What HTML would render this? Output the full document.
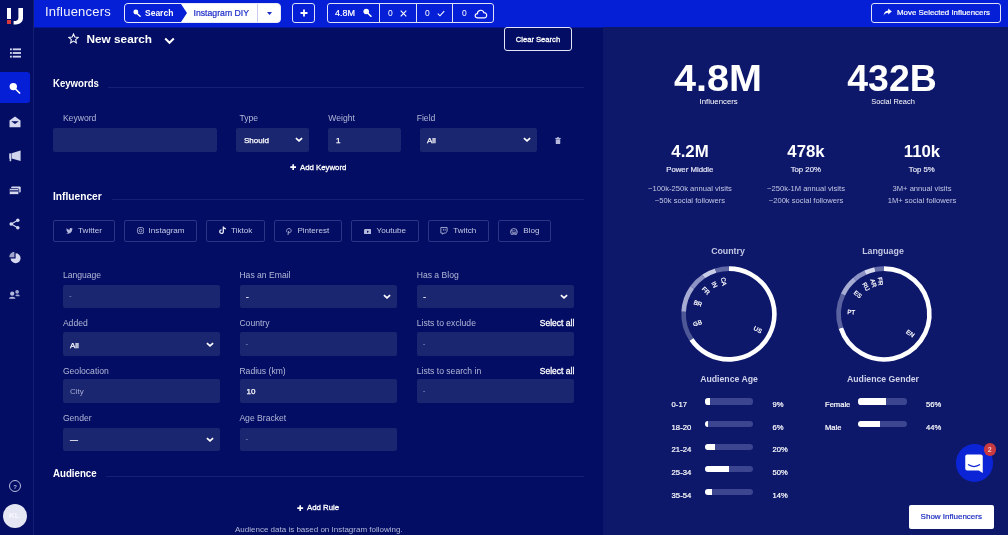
<!DOCTYPE html>
<html><head><meta charset="utf-8">
<style>
*{box-sizing:border-box;margin:0;padding:0}
html,body{width:1008px;height:535px;overflow:hidden;background:#030d63;font-family:"Liberation Sans",sans-serif;color:#fff}
#app{position:relative;width:1008px;height:535px;overflow:hidden;background:#030d63}
.abs{position:absolute}
.t{position:absolute;white-space:nowrap;line-height:1}
#side{position:absolute;left:0;top:0;width:34px;height:535px;background:#030d63;border-right:1px solid #151f72}
#top{position:absolute;left:34px;top:0;width:974px;height:28px;background:#041fd6;border-bottom:1px solid #04169c}
#right{position:absolute;left:603px;top:27px;width:405px;height:508px;background:#0e186b}
.inp{position:absolute;background:#1b2670;border-radius:2px;height:23.6px}
.lbl{position:absolute;white-space:nowrap;font-size:8.6px;line-height:1;color:#b3b8d8}
.val{position:absolute;white-space:nowrap;font-size:8px;line-height:1;color:#fff;-webkit-text-stroke:0.25px #fff}
.sb{-webkit-text-stroke:0.3px currentColor}
.sb2{-webkit-text-stroke:0.2px currentColor}
.ph{position:absolute;white-space:nowrap;font-size:8px;line-height:1;color:#8e95c4}
.sec{position:absolute;white-space:nowrap;font-size:10.6px;line-height:1;font-weight:bold;color:#fff;transform-origin:0 50%;transform:scaleX(0.905)}
.hr{position:absolute;height:1px;background:#152075}
.pb{position:absolute;height:22px;top:220px;border:1px solid #2a3584;border-radius:2px}
.pb span{position:absolute;top:6.4px;font-size:8.1px;line-height:1;color:#c5c9e6;white-space:nowrap}
.pb svg{position:absolute}
.c{transform:translateX(-50%)}
</style></head><body><div id="app">

<!-- SIDEBAR -->
<div id="side">
<!-- logo -->
<div class="abs" style="left:7px;top:7.5px;width:4px;height:11.5px;background:#fff"></div>
<div class="abs" style="left:7px;top:20px;width:4px;height:4px;background:#d63a3a"></div>
<svg class="abs" style="left:13px;top:7.5px" width="10" height="17" viewBox="0 0 10 17"><path d="M5.4 0 H10 V10 C10 14.6 6.5 16.6 0.6 16.6 V13 C4 13 5.4 12 5.4 9.4 Z" fill="#fff"/></svg>
<!-- list -->
<svg class="abs" style="left:9.5px;top:47.3px" width="11" height="12" viewBox="0 0 12 12" fill="#d0d4ec"><rect x="0" y="1" width="2" height="2"/><rect x="3" y="1" width="9" height="2"/><rect x="0" y="5" width="2" height="2"/><rect x="3" y="5" width="9" height="2"/><rect x="0" y="9" width="2" height="2"/><rect x="3" y="9" width="9" height="2"/></svg>
<!-- active search -->
<div class="abs" style="left:0;top:72px;width:30px;height:31px;background:#041fd6;border-radius:0 3px 3px 0"></div>
<svg class="abs" style="left:8.7px;top:81.7px" width="12" height="12" viewBox="0 0 12 12"><circle cx="4.3" cy="4.6" r="3.7" fill="#fff"/><path d="M6.5 7 L10.6 11" stroke="#fff" stroke-width="1.7" stroke-linecap="round"/></svg>
<!-- envelope open -->
<svg class="abs" style="left:8.5px;top:116px" width="12" height="12" viewBox="0 0 12 12" fill="#d5d8ee"><path d="M6 0.5 L11.5 4.5 V11.3 H0.5 V4.5 Z"/><path d="M2.2 5.2 H9.8 L6 8 Z" fill="#030d63"/></svg>
<!-- megaphone -->
<svg class="abs" style="left:8.8px;top:150px" width="12" height="12" viewBox="0 0 12 12" fill="#d0d3ec"><rect x="0.2" y="3.4" width="2" height="5.2"/><rect x="0.6" y="8" width="1.6" height="3.2"/><path d="M2.6 3.3 L11.6 0.4 V11 L2.6 8.4 Z"/></svg>
<!-- card -->
<svg class="abs" style="left:8.6px;top:185.6px" width="12" height="10" viewBox="0 0 12 10" fill="#d5d8ee"><rect x="2.2" y="0.5" width="9.5" height="6" rx="1"/><rect x="0.3" y="2.6" width="9.5" height="6" rx="1" stroke="#030d63" stroke-width="0.8"/><rect x="0.8" y="4.3" width="8.6" height="1.2" fill="#030d63"/></svg>
<!-- share -->
<svg class="abs" style="left:9.2px;top:218.3px" width="11" height="12" viewBox="0 0 12 13"><path d="M9.5 2.3 L2.5 6.5 L9.5 10.7" stroke="#d5d8ee" stroke-width="1.3" fill="none"/><circle cx="9.6" cy="2.3" r="1.9" fill="#d5d8ee"/><circle cx="2.4" cy="6.5" r="1.9" fill="#d5d8ee"/><circle cx="9.6" cy="10.7" r="1.9" fill="#d5d8ee"/></svg>
<!-- pie -->
<svg class="abs" style="left:8.8px;top:251.2px" width="12" height="13" viewBox="0 0 12 13" fill="#d5d8ee"><path d="M6.6 2.2 A5 5 0 1 1 1.6 7.4 H6.6 Z"/><path d="M5.4 0.8 V6.2 H0.3 A5.2 5.2 0 0 1 5.4 0.8 Z" opacity=".75"/></svg>
<!-- users -->
<svg class="abs" style="left:9px;top:288.5px" width="11" height="10.5" viewBox="0 0 13 11" fill="#b4b9de"><circle cx="3.8" cy="4.8" r="2.5"/><path d="M0 10.8 C0 7.6 7.6 7.6 7.6 10.8 Z"/><circle cx="9.6" cy="2.6" r="2.2" opacity=".9"/><path d="M7.4 7 C8.4 5.4 12.8 5.4 12.8 8 H8.8 Z" opacity=".9"/></svg>
<!-- help -->
<div class="abs" style="left:9px;top:480px;width:12px;height:12px;border:1px solid #b7bce0;border-radius:50%"></div>
<div class="t" style="left:13.2px;top:483.5px;font-size:6px;font-weight:bold;color:#b7bce0">?</div>
<!-- avatar -->
<div class="abs" style="left:3px;top:504px;width:24px;height:24px;border-radius:50%;background:#e4e6f4"></div>
<div class="t" style="left:9px;top:512px;font-size:8px;font-weight:bold;color:#f8f8fd">KL</div>
</div>

<!-- TOPBAR -->
<div id="top">
<div class="t" style="left:11px;top:4.8px;font-size:13px;letter-spacing:0.22px;color:#f2f3fb">Influencers</div>
<!-- search pill -->
<div class="abs" style="left:90px;top:3px;width:157px;height:20px;border:1px solid #e8eaf8;border-radius:4px;background:#fff;overflow:hidden">
  <svg class="abs" style="left:0;top:0" width="70" height="18" viewBox="0 0 70 18"><path d="M0 0 H56 L62 9 L56 18 H0 Z" fill="#041fd6"/></svg>
  <svg class="abs" style="left:7.5px;top:5px" width="8" height="8" viewBox="0 0 12 12"><circle cx="4.3" cy="4.6" r="3.7" fill="#fff"/><path d="M6.5 7 L10.6 11" stroke="#fff" stroke-width="2.2" stroke-linecap="round"/></svg>
  <div class="t" style="left:20px;top:5px;font-size:8.5px;font-weight:bold;color:#fff">Search</div>
  <div class="t sb2" style="left:68.5px;top:5px;font-size:8.7px;color:#1a2bc8">Instagram DIY</div>
  <div class="abs" style="left:132.3px;top:0;width:1px;height:18px;background:#c8cdf0"></div>
  <svg class="abs" style="left:141.5px;top:7.5px" width="5" height="3.4" viewBox="0 0 6 4"><path d="M0 0 H6 L3 3.6 Z" fill="#1a2bc0"/></svg>
</div>
<!-- plus -->
<div class="abs" style="left:258px;top:3px;width:23px;height:20px;border:1px solid #dfe2f7;border-radius:3px"></div>
<svg class="abs" style="left:265.5px;top:9px" width="8" height="8" viewBox="0 0 8 8"><path d="M4 0.5 V7.5 M0.5 4 H7.5" stroke="#fff" stroke-width="1.8"/></svg>
<!-- stats -->
<div class="abs" style="left:293px;top:3px;width:167px;height:20px;border:1px solid #dfe2f7;border-radius:3px"></div>
<div class="abs" style="left:345px;top:4px;width:1px;height:18px;background:#dfe2f7"></div>
<div class="abs" style="left:382px;top:4px;width:1px;height:18px;background:#dfe2f7"></div>
<div class="abs" style="left:418px;top:4px;width:1px;height:18px;background:#dfe2f7"></div>
<div class="t sb2" style="left:301px;top:9px;font-size:9px;color:#fff">4.8M</div>
<svg class="abs" style="left:329px;top:8px" width="9" height="9" viewBox="0 0 12 12"><circle cx="4.3" cy="4.6" r="3.7" fill="#fff"/><path d="M6.5 7 L10.6 11" stroke="#fff" stroke-width="2.2" stroke-linecap="round"/></svg>
<div class="t" style="left:354px;top:9px;font-size:8.5px;color:#fff">0</div>
<svg class="abs" style="left:366px;top:10px" width="7" height="7" viewBox="0 0 7 7"><path d="M0.7 0.7 L6.3 6.3 M6.3 0.7 L0.7 6.3" stroke="#fff" stroke-width="1.1"/></svg>
<div class="t" style="left:391px;top:9px;font-size:8.5px;color:#fff">0</div>
<svg class="abs" style="left:403px;top:10px" width="8" height="7" viewBox="0 0 8 7"><path d="M0.8 3.6 L3 5.8 L7.2 1.2" stroke="#fff" stroke-width="1.1" fill="none"/></svg>
<div class="t" style="left:428px;top:9px;font-size:8.5px;color:#fff">0</div>
<svg class="abs" style="left:439.5px;top:8.6px" width="14" height="10" viewBox="0 0 15 11"><path d="M4 9.8 C0.2 9.8 0.2 5 3.6 5 C3.6 0.6 9.6 0.2 10.6 4 C14.6 3.6 14.8 9.8 11 9.8 Z" stroke="#fff" stroke-width="1.3" fill="none"/></svg>
<!-- move -->
<div class="abs" style="left:837px;top:3px;width:130px;height:20px;border:1px solid #dfe2f7;border-radius:3px"></div>
<svg class="abs" style="left:849px;top:8px" width="9" height="9" viewBox="0 0 9 9"><path d="M5.2 0.6 L8.8 3.6 L5.2 6.6 V4.8 C3 4.8 1.6 5.6 0.6 7.8 C0.8 4.6 2.4 2.6 5.2 2.4 Z" fill="#fff"/></svg>
<div class="t sb2" style="left:863px;top:9px;font-size:7.9px;color:#fff">Move Selected Influencers</div>
</div>

<!-- MAIN -->
<div id="main">
<svg class="abs" style="left:68.2px;top:33.4px" width="11" height="11" viewBox="0 0 11 11"><polygon points="5.50,1.00 6.82,4.08 10.16,4.39 7.64,6.60 8.38,9.86 5.50,8.15 2.62,9.86 3.36,6.60 0.84,4.39 4.18,4.08" fill="none" stroke="#f0f1fa" stroke-width="1.1" stroke-linejoin="miter"/></svg>
<div class="t" style="left:86.5px;top:33.6px;font-size:11.8px;font-weight:bold;color:#fff">New search</div>
<svg class="abs" style="left:164px;top:37px" width="11" height="8" viewBox="0 0 11 8"><path d="M1.2 1.5 L5.5 5.8 L9.8 1.5" stroke="#fff" stroke-width="2" fill="none"/></svg>
<div class="abs" style="left:503.7px;top:27.3px;width:68.5px;height:23.3px;border:1px solid #e4e6f6;border-radius:3px"></div>
<div class="t sb" style="left:515.8px;top:35.8px;font-size:7.6px;color:#fff">Clear Search</div>
<div class="sec" style="left:53px;top:77.6px">Keywords</div><div class="hr" style="left:108px;top:87px;width:476px"></div>
<div class="lbl" style="left:62.9px;top:114px">Keyword</div>
<div class="lbl" style="left:239.4px;top:114px">Type</div>
<div class="lbl" style="left:328.3px;top:114px">Weight</div>
<div class="lbl" style="left:416.7px;top:114px">Field</div>
<div class="inp" style="left:53px;top:128px;width:164px"></div>
<div class="inp" style="left:236px;top:128px;width:73px"><span class="val" style="left:8px;top:9.3px">Should</span><svg class="abs" style="right:6.1px;top:9.3px" width="8" height="6" viewBox="0 0 8 6"><path d="M0.9 1.2 L4 3.9 L7.1 1.2" stroke="#fff" stroke-width="1.7" fill="none"/></svg></div>
<div class="inp" style="left:328px;top:128px;width:73px"><span class="val" style="left:8px;top:9.3px">1</span></div>
<div class="inp" style="left:420px;top:128px;width:117.4px"><span class="val" style="left:7px;top:9.3px">All</span><svg class="abs" style="right:6.1px;top:9.3px" width="8" height="6" viewBox="0 0 8 6"><path d="M0.9 1.2 L4 3.9 L7.1 1.2" stroke="#fff" stroke-width="1.7" fill="none"/></svg></div>
<svg class="abs" style="left:555px;top:136.8px" width="6" height="7.2" viewBox="0 0 6 8" fill="#b4b9dc"><rect x="0" y="1" width="6" height="1.2"/><rect x="2" y="0" width="2" height="1"/><path d="M0.5 2.6 H5.5 V7 C5.5 7.6 5.1 8 4.6 8 H1.4 C0.9 8 0.5 7.6 0.5 7 Z"/></svg>
<svg class="abs" style="left:290px;top:164px" width="6.4" height="6.4" viewBox="0 0 7 7"><path d="M3.5 0.3 V6.7 M0.3 3.5 H6.7" stroke="#fff" stroke-width="1.8"/></svg>
<div class="t sb" style="left:300px;top:164px;font-size:7.8px;color:#fff">Add Keyword</div>
<div class="sec" style="left:53px;top:191.4px;transform:scaleX(0.962)">Influencer</div><div class="hr" style="left:112px;top:199px;width:472px"></div>
<div class="pb" style="left:53px;width:62px"><svg style="left:12.3px;top:7.3px" width="7" height="6" viewBox="0 0 8 7"><path d="M0 5.9 C1 6 1.8 5.8 2.5 5.2 C1.7 5.2 1.2 4.7 1 4.1 H1.7 C0.9 3.8 0.4 3.2 0.4 2.4 L1.1 2.6 C0.4 2 0.2 1.2 0.6 0.4 C1.5 1.5 2.6 2.1 4 2.2 C3.7 0.4 5.6 -0.5 6.7 0.6 L7.7 0.2 L7 1.1 L7.9 0.9 L7.1 1.7 C7.2 5.4 3.2 8 0 5.9 Z" fill="#b4b9dc"/></svg><span style="left:24.1px">Twitter</span></div>
<div class="pb" style="left:124px;width:73px"><svg style="left:12px;top:6.3px" width="7.2" height="7.2" viewBox="0 0 8 8"><rect x="0.6" y="0.6" width="6.8" height="6.8" rx="2" stroke="#b4b9dc" stroke-width="0.9" fill="none"/><circle cx="4" cy="4" r="1.6" stroke="#b4b9dc" stroke-width="0.9" fill="none"/></svg><span style="left:23.6px">Instagram</span></div>
<div class="pb" style="left:206px;width:59px"><svg style="left:11.8px;top:5px" width="7.5" height="8.5" viewBox="0 0 8 9"><path d="M4.6 0.4 V6 A1.9 1.9 0 1 1 2.8 4.1 M4.6 0.6 C4.8 2 5.8 2.8 7.4 2.9" stroke="#e6e8f6" stroke-width="1.4" fill="none"/></svg><span style="left:24.0px">Tiktok</span></div>
<div class="pb" style="left:274px;width:68px"><svg style="left:11.3px;top:6.5px" width="6" height="7.7" viewBox="0 0 7 9"><path d="M2.2 8.6 L3.2 3.4 M1.4 5.2 C-0.4 2.8 1.4 0.6 3.6 0.6 C5.8 0.6 6.6 2.8 5.6 4.6 C4.8 5.8 3.6 5.8 3 4.8" stroke="#b4b9dc" stroke-width="1" fill="none"/></svg><span style="left:22.4px">Pinterest</span></div>
<div class="pb" style="left:351px;width:68px"><svg style="left:11.8px;top:7.5px" width="7.5" height="5.8" viewBox="0 0 9 7"><rect x="0" y="0" width="9" height="6.6" rx="1.6" fill="#b4b9dc"/><path d="M3.6 1.8 L6 3.3 L3.6 4.8 Z" fill="#030d63"/></svg><span style="left:24.5px">Youtube</span></div>
<div class="pb" style="left:428px;width:61px"><svg style="left:11.3px;top:6.2px" width="7.8" height="7.8" viewBox="0 0 9 9"><path d="M1 0.6 H8.2 V5.2 L6.2 7 H4.4 L3 8.4 V7 H1 Z" stroke="#b4b9dc" stroke-width="1" fill="none"/><path d="M4 2.2 V4.2 M6 2.2 V4.2" stroke="#b4b9dc" stroke-width="0.9"/></svg><span style="left:24.3px">Twitch</span></div>
<div class="pb" style="left:498px;width:53px"><svg style="left:11.3px;top:6.5px" width="7.8" height="7.8" viewBox="0 0 9 9"><circle cx="4.5" cy="4.5" r="3.9" stroke="#b4b9dc" stroke-width="1" fill="none"/><path d="M2 3 L3.6 7.4 L4.6 4.4 L5.8 7.4 L7.2 3 M1.6 3 H3.2 M4 3 H5.4" stroke="#b4b9dc" stroke-width="0.8" fill="none"/></svg><span style="left:24.2px">Blog</span></div>
<div class="lbl" style="left:62.9px;top:271px">Language</div>
<div class="lbl" style="left:239.4px;top:271px">Has an Email</div>
<div class="lbl" style="left:416.7px;top:271px">Has a Blog</div>
<div class="inp" style="left:63px;top:284.7px;width:157px"><span class="ph" style="left:6px;top:7.5px">-</span></div>
<div class="inp" style="left:239.5px;top:284.7px;width:157.5px"><span class="val" style="left:6.5px;top:8.5px">-</span><svg class="abs" style="right:6.1px;top:9.3px" width="8" height="6" viewBox="0 0 8 6"><path d="M0.9 1.2 L4 3.9 L7.1 1.2" stroke="#fff" stroke-width="1.7" fill="none"/></svg></div>
<div class="inp" style="left:416.8px;top:284.7px;width:157px"><span class="val" style="left:6.5px;top:8.5px">-</span><svg class="abs" style="right:6.1px;top:9.3px" width="8" height="6" viewBox="0 0 8 6"><path d="M0.9 1.2 L4 3.9 L7.1 1.2" stroke="#fff" stroke-width="1.7" fill="none"/></svg></div>
<div class="lbl" style="left:62.9px;top:319px">Added</div>
<div class="lbl" style="left:239.4px;top:319px">Country</div>
<div class="lbl" style="left:416.7px;top:319px">Lists to exclude</div>
<div class="t sb" style="left:539.8px;top:319px;font-size:8.5px;color:#fff">Select all</div>
<div class="inp" style="left:63px;top:332.3px;width:157px"><span class="val" style="left:7px;top:9.3px">All</span><svg class="abs" style="right:6.1px;top:9.3px" width="8" height="6" viewBox="0 0 8 6"><path d="M0.9 1.2 L4 3.9 L7.1 1.2" stroke="#fff" stroke-width="1.7" fill="none"/></svg></div>
<div class="inp" style="left:239.5px;top:332.3px;width:157.5px"><span class="ph" style="left:6px;top:7.5px">-</span></div>
<div class="inp" style="left:416.8px;top:332.3px;width:157px"><span class="ph" style="left:6px;top:7.5px">-</span></div>
<div class="lbl" style="left:62.9px;top:367px">Geolocation</div>
<div class="lbl" style="left:239.4px;top:367px">Radius (km)</div>
<div class="lbl" style="left:416.7px;top:367px">Lists to search in</div>
<div class="t sb" style="left:539.8px;top:367px;font-size:8.5px;color:#fff">Select all</div>
<div class="inp" style="left:63px;top:379.4px;width:157px"><span class="ph" style="left:7px;top:8.3px;color:#a3a9d2">City</span></div>
<div class="inp" style="left:239.5px;top:379.4px;width:157.5px"><span class="val" style="left:7px;top:8.8px">10</span></div>
<div class="inp" style="left:416.8px;top:379.4px;width:157px"><span class="ph" style="left:6px;top:7.5px">-</span></div>
<div class="lbl" style="left:62.9px;top:414px">Gender</div>
<div class="lbl" style="left:239.4px;top:414px">Age Bracket</div>
<div class="inp" style="left:63px;top:427.6px;width:157px"><span class="val" style="left:7px;top:8.3px">—</span><svg class="abs" style="right:6.1px;top:9.3px" width="8" height="6" viewBox="0 0 8 6"><path d="M0.9 1.2 L4 3.9 L7.1 1.2" stroke="#fff" stroke-width="1.7" fill="none"/></svg></div>
<div class="inp" style="left:239.5px;top:427.6px;width:157.5px"><span class="ph" style="left:6px;top:7.5px">-</span></div>
<div class="sec" style="left:53px;top:468.4px;transform:scaleX(0.915)">Audience</div><div class="hr" style="left:106px;top:476.3px;width:478px"></div>
<svg class="abs" style="left:297.3px;top:504.7px" width="6.4" height="6.4" viewBox="0 0 7 7"><path d="M3.5 0.3 V6.7 M0.3 3.5 H6.7" stroke="#fff" stroke-width="1.8"/></svg>
<div class="t sb" style="left:307px;top:504.1px;font-size:7.8px;color:#fff">Add Rule</div>
<div class="t" style="left:235px;top:525.5px;font-size:8px;color:#b5badc">Audience data is based on Instagram following.</div>
</div>

<!-- RIGHT -->
<div id="right"></div>
<div id="rc">
<div class="t" style="left:718px;top:60px;font-size:37px;font-weight:bold;color:#fff;transform:translateX(-50%) scaleX(1.07)">4.8M</div>
<div class="t c" style="left:718.7px;top:98px;font-size:7.8px;color:#fff;">Influencers</div>
<div class="t" style="left:892px;top:60px;font-size:37px;font-weight:bold;color:#fff;transform:translateX(-50%) scaleX(1.012)">432B</div>
<div class="t c" style="left:893px;top:98px;font-size:7.4px;color:#fff;">Social Reach</div>
<div class="t" style="left:690px;top:143px;font-size:17px;font-weight:bold;color:#fff;transform:translateX(-50%) scaleX(0.987)">4.2M</div>
<div class="t c sb2" style="left:689.8px;top:166px;font-size:7.8px;color:#e3e5f4;">Power Middle</div>
<div class="t c" style="left:690px;top:185px;font-size:7.6px;color:#c3c7e4;">~100k-250k annual visits</div>
<div class="t c" style="left:690px;top:197.3px;font-size:7.6px;color:#c3c7e4;">~50k social followers</div>
<div class="t" style="left:806px;top:143px;font-size:17px;font-weight:bold;color:#fff;transform:translateX(-50%) scaleX(0.987)">478k</div>
<div class="t c sb2" style="left:805.8px;top:166px;font-size:7.8px;color:#e3e5f4;">Top 20%</div>
<div class="t c" style="left:806px;top:185px;font-size:7.6px;color:#c3c7e4;">~250k-1M annual visits</div>
<div class="t c" style="left:806px;top:197.3px;font-size:7.6px;color:#c3c7e4;">~200k social followers</div>
<div class="t" style="left:922px;top:143px;font-size:17px;font-weight:bold;color:#fff;transform:translateX(-50%) scaleX(0.987)">110k</div>
<div class="t c sb2" style="left:921.8px;top:166px;font-size:7.8px;color:#e3e5f4;">Top 5%</div>
<div class="t c" style="left:922px;top:185px;font-size:7.6px;color:#c3c7e4;">3M+ annual visits</div>
<div class="t c" style="left:922px;top:197.3px;font-size:7.6px;color:#c3c7e4;">1M+ social followers</div>
<div class="t c" style="left:728px;top:247.3px;font-size:8.8px;font-weight:bold;color:#c3c7e4;">Country</div>
<div class="t c" style="left:883px;top:247.3px;font-size:8.8px;font-weight:bold;color:#c3c7e4;">Language</div>
<svg class="abs" style="left:668.8px;top:253.8px" width="120" height="120" viewBox="-60 -60 120 120"><path d="M0.00 -45.40 A45.4 45.4 0 1 1 -37.64 25.39" stroke="#ffffff" stroke-width="4.6" fill="none"/><path d="M-37.64 25.39 A45.4 45.4 0 0 1 -45.34 -2.38" stroke="#4f5896" stroke-width="4.6" fill="none"/><path d="M-45.34 -2.38 A45.4 45.4 0 0 1 -36.73 -26.69" stroke="#a7acd3" stroke-width="4.6" fill="none"/><path d="M-36.73 -26.69 A45.4 45.4 0 0 1 -25.39 -37.64" stroke="#8d93c4" stroke-width="4.6" fill="none"/><path d="M-25.39 -37.64 A45.4 45.4 0 0 1 -13.27 -43.42" stroke="#c9cce6" stroke-width="4.6" fill="none"/><path d="M-13.27 -43.42 A45.4 45.4 0 0 1 -0.00 -45.40" stroke="#6068a6" stroke-width="4.6" fill="none"/><text x="29.0" y="15.4" font-size="6.1" fill="#fff" stroke="#fff" stroke-width="0.22" text-anchor="middle" dominant-baseline="central" transform="rotate(28.0 29.0 15.4)" font-family="Liberation Sans, sans-serif">US</text><text x="-31.6" y="8.8" font-size="6.1" fill="#fff" stroke="#fff" stroke-width="0.22" text-anchor="middle" dominant-baseline="central" transform="rotate(-15.5 -31.6 8.8)" font-family="Liberation Sans, sans-serif">GB</text><text x="-30.9" y="-11.0" font-size="6.1" fill="#fff" stroke="#fff" stroke-width="0.22" text-anchor="middle" dominant-baseline="central" transform="rotate(19.5 -30.9 -11.0)" font-family="Liberation Sans, sans-serif">BR</text><text x="-22.8" y="-23.6" font-size="6.1" fill="#fff" stroke="#fff" stroke-width="0.22" text-anchor="middle" dominant-baseline="central" transform="rotate(46.0 -22.8 -23.6)" font-family="Liberation Sans, sans-serif">FR</text><text x="-14.1" y="-29.6" font-size="6.1" fill="#fff" stroke="#fff" stroke-width="0.22" text-anchor="middle" dominant-baseline="central" transform="rotate(64.5 -14.1 -29.6)" font-family="Liberation Sans, sans-serif">IN</text><text x="-4.9" y="-32.5" font-size="6.1" fill="#fff" stroke="#fff" stroke-width="0.22" text-anchor="middle" dominant-baseline="central" transform="rotate(81.5 -4.9 -32.5)" font-family="Liberation Sans, sans-serif">CA</text></svg>
<svg class="abs" style="left:823.5px;top:253.8px" width="120" height="120" viewBox="-60 -60 120 120"><path d="M0.00 -45.40 A45.4 45.4 0 1 1 -43.18 14.03" stroke="#ffffff" stroke-width="4.6" fill="none"/><path d="M-43.18 14.03 A45.4 45.4 0 0 1 -40.98 -19.55" stroke="#5a62a0" stroke-width="4.6" fill="none"/><path d="M-40.98 -19.55 A45.4 45.4 0 0 1 -29.18 -34.78" stroke="#a7acd3" stroke-width="4.6" fill="none"/><path d="M-29.18 -34.78 A45.4 45.4 0 0 1 -18.83 -41.31" stroke="#8d93c4" stroke-width="4.6" fill="none"/><path d="M-18.83 -41.31 A45.4 45.4 0 0 1 -9.05 -44.49" stroke="#d6d8ec" stroke-width="4.6" fill="none"/><path d="M-9.05 -44.49 A45.4 45.4 0 0 1 -0.00 -45.40" stroke="#666ea8" stroke-width="4.6" fill="none"/><text x="26.5" y="19.2" font-size="6.1" fill="#fff" stroke="#fff" stroke-width="0.22" text-anchor="middle" dominant-baseline="central" transform="rotate(36.0 26.5 19.2)" font-family="Liberation Sans, sans-serif">EN</text><text x="-32.7" y="-2.2" font-size="6.1" fill="#fff" stroke="#fff" stroke-width="0.22" text-anchor="middle" dominant-baseline="central" transform="rotate(3.8 -32.7 -2.2)" font-family="Liberation Sans, sans-serif">PT</text><text x="-26.0" y="-20.1" font-size="6.1" fill="#fff" stroke="#fff" stroke-width="0.22" text-anchor="middle" dominant-baseline="central" transform="rotate(37.8 -26.0 -20.1)" font-family="Liberation Sans, sans-serif">ES</text><text x="-17.5" y="-27.7" font-size="6.1" fill="#fff" stroke="#fff" stroke-width="0.22" text-anchor="middle" dominant-baseline="central" transform="rotate(57.8 -17.5 -27.7)" font-family="Liberation Sans, sans-serif">RU</text><text x="-10.1" y="-31.1" font-size="6.1" fill="#fff" stroke="#fff" stroke-width="0.22" text-anchor="middle" dominant-baseline="central" transform="rotate(72.0 -10.1 -31.1)" font-family="Liberation Sans, sans-serif">AR</text><text x="-3.3" y="-32.6" font-size="6.1" fill="#fff" stroke="#fff" stroke-width="0.22" text-anchor="middle" dominant-baseline="central" transform="rotate(84.2 -3.3 -32.6)" font-family="Liberation Sans, sans-serif">FR</text></svg>
<div class="t c" style="left:729px;top:375.3px;font-size:8.7px;font-weight:bold;color:#d0d3ea;">Audience Age</div>
<div class="t c" style="left:883px;top:375.3px;font-size:8.7px;font-weight:bold;color:#d0d3ea;">Audience Gender</div>
<div class="t sb2" style="left:671.6px;top:400.9px;font-size:7.7px;color:#fff">0-17</div><div class="abs" style="left:705px;top:398.4px;width:48px;height:6.2px;border-radius:3.1px;background:#3b4590;overflow:hidden"><div style="width:5px;height:7px;background:#fff"></div></div>
<div class="t sb2" style="left:772.5px;top:400.9px;font-size:7.6px;color:#fff">9%</div>
<div class="t sb2" style="left:671.6px;top:423.6px;font-size:7.7px;color:#fff">18-20</div><div class="abs" style="left:705px;top:421px;width:48px;height:6.2px;border-radius:3.1px;background:#3b4590;overflow:hidden"><div style="width:2.9px;height:7px;background:#fff"></div></div>
<div class="t sb2" style="left:772.5px;top:423.6px;font-size:7.6px;color:#fff">6%</div>
<div class="t sb2" style="left:671.6px;top:446.4px;font-size:7.7px;color:#fff">21-24</div><div class="abs" style="left:705px;top:443.5px;width:48px;height:6.2px;border-radius:3.1px;background:#3b4590;overflow:hidden"><div style="width:9.6px;height:7px;background:#fff"></div></div>
<div class="t sb2" style="left:772.5px;top:446.4px;font-size:7.6px;color:#fff">20%</div>
<div class="t sb2" style="left:671.6px;top:469.1px;font-size:7.7px;color:#fff">25-34</div><div class="abs" style="left:705px;top:466.2px;width:48px;height:6.2px;border-radius:3.1px;background:#3b4590;overflow:hidden"><div style="width:24.0px;height:7px;background:#fff"></div></div>
<div class="t sb2" style="left:772.5px;top:469.1px;font-size:7.6px;color:#fff">50%</div>
<div class="t sb2" style="left:671.6px;top:491.8px;font-size:7.7px;color:#fff">35-54</div><div class="abs" style="left:705px;top:488.8px;width:48px;height:6.2px;border-radius:3.1px;background:#3b4590;overflow:hidden"><div style="width:6.7px;height:7px;background:#fff"></div></div>
<div class="t sb2" style="left:772.5px;top:491.8px;font-size:7.6px;color:#fff">14%</div>
<div class="t sb2" style="left:825px;top:400.9px;font-size:7.6px;color:#fff">Female</div><div class="abs" style="left:858.3px;top:398.4px;width:48.7px;height:6.2px;border-radius:3.1px;background:#3b4590;overflow:hidden"><div style="width:27.3px;height:7px;background:#fff"></div></div>
<div class="t sb2" style="left:926px;top:400.9px;font-size:7.6px;color:#fff">56%</div>
<div class="t sb2" style="left:825px;top:423.6px;font-size:7.6px;color:#fff">Male</div><div class="abs" style="left:858.3px;top:421px;width:48.7px;height:6.2px;border-radius:3.1px;background:#3b4590;overflow:hidden"><div style="width:21.4px;height:7px;background:#fff"></div></div>
<div class="t sb2" style="left:926px;top:423.6px;font-size:7.6px;color:#fff">44%</div>
<div class="abs" style="left:955.5px;top:444px;width:37.5px;height:37.5px;border-radius:50%;background:#0b24d6"></div>
<svg class="abs" style="left:965px;top:454.3px" width="18.5" height="20" viewBox="0 0 18 20"><path d="M2 0.5 H15.5 C16.6 0.5 17.5 1.4 17.5 2.5 V19 L13.5 16.5 H2 C0.9 16.5 0 15.6 0 14.5 V2.5 C0 1.4 0.9 0.5 2 0.5 Z" fill="#fff"/><path d="M2.8 10.6 C6.5 13 11 13 14.8 10.6" stroke="#0b24d6" stroke-width="1.2" fill="none"/></svg>
<div class="abs" style="left:983.5px;top:443.3px;width:12.5px;height:12.5px;border-radius:50%;background:#c83a3f"></div>
<div class="t" style="left:987.8px;top:446.3px;font-size:7px;font-weight:bold;color:#f4c9cb">2</div>
<div class="abs" style="left:909px;top:505px;width:84.5px;height:23.5px;border-radius:2px;background:#fff"></div>
<div class="t c sb2" style="left:951.3px;top:513.3px;font-size:8px;color:#1a2bc0">Show Influencers</div>
</div>

</div></body></html>
